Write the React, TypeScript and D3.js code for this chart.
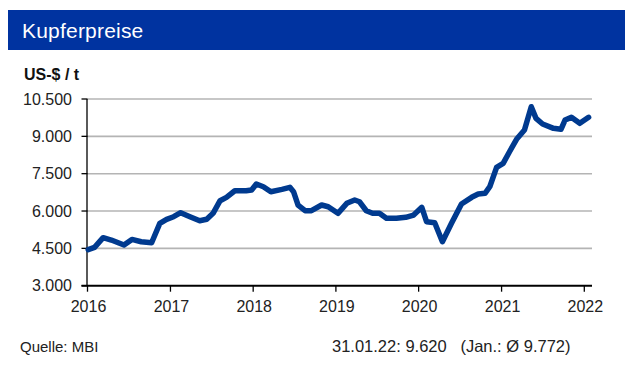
import React from "react";
import * as d3 from "d3";

const dates: string[] = [
  "2016-01-04","2016-02-01","2016-03-10","2016-04-15","2016-06-10","2016-07-15","2016-08-25","2016-10-10",
  "2016-11-15","2016-12-15","2017-01-15","2017-02-15","2017-03-28","2017-05-10","2017-06-10","2017-07-08",
  "2017-08-08","2017-09-05","2017-10-12","2017-12-01","2017-12-25","2018-01-15","2018-02-15","2018-03-20",
  "2018-05-08","2018-06-12","2018-06-28","2018-07-18","2018-08-18","2018-09-15","2018-10-30","2018-11-28",
  "2019-01-10","2019-02-18","2019-03-25","2019-04-15","2019-05-15","2019-06-12","2019-07-12","2019-08-12",
  "2019-09-25","2019-11-05","2019-12-10","2020-01-15","2020-02-05","2020-03-12","2020-04-15","2020-05-25",
  "2020-07-08","2020-08-22","2020-09-20","2020-10-20","2020-11-10","2020-12-10","2021-01-08","2021-02-05",
  "2021-03-08","2021-04-12","2021-05-12","2021-06-02","2021-07-01","2021-08-18","2021-09-20","2021-10-08",
  "2021-11-05","2021-12-12","2022-01-20"
];
const prices: number[] = [
  4450,4540,4930,4835,4635,4860,4767,4727,
  5506,5667,5771,5932,5771,5610,5667,5908,
  6414,6550,6815,6815,6843,7084,6976,6775,
  6872,6952,6775,6241,6012,6012,6241,6173,
  5908,6309,6442,6373,6012,5908,5908,5707,
  5707,5747,5839,6149,5570,5530,4767,5506,
  6281,6550,6683,6711,6976,7755,7916,8382,
  8880,9253,10189,9723,9494,9321,9281,9655,
  9763,9522,9763
];
const yTicks: number[] = [3000, 4500, 6000, 7500, 9000, 10500];
const xTickYears: number[] = [2016, 2017, 2018, 2019, 2020, 2021, 2022];

const title = "Kupferpreise";
const unit = "US-$ / t";
const source = "Quelle: MBI";
const note = "31.01.22: 9.620   (Jan.: Ø 9.772)";

const fmt = (v: number) => d3.format(",")(v).replace(/,/g, ".");

export default function App() {
  const W = 632, H = 377;
  const x0 = 87.5, x1 = 584.3, gridEnd = 592;
  const y0 = 285.7, y1 = 99;
  const x = d3.scaleTime()
    .domain([new Date(2016, 0, 1), new Date(2022, 0, 1)])
    .range([x0, x1]);
  const y = d3.scaleLinear().domain([3000, 10500]).range([y0, y1]);
  const parse = d3.timeParse("%Y-%m-%d");
  const pts = dates.map((d, i) => ({ d: parse(d) as Date, v: prices[i] }));
  const line = d3.line<{ d: Date; v: number }>()
    .x((p) => x(p.d))
    .y((p) => y(p.v))
    .curve(d3.curveLinear);
  const font = "'Liberation Sans', Arial, sans-serif";
  return (
    <svg width={W} height={H} style={{ position: "absolute", left: 0, top: 0 }} fontFamily={font}>
      <rect x={0} y={0} width={W} height={H} fill="#fff" />
      <rect x={8} y={10} width={617} height={40} fill="#0033a0" />
      <text x={22} y={38} fill="#fff" fontSize={21} style={{ letterSpacing: "0.2px" }}>{title}</text>
      <text x={24} y={80} fill="#111" fontSize={16} fontWeight="bold">{unit}</text>
      {yTicks.filter((t) => t !== 3000).map((t) => (
        <line key={"g" + t} x1={x0} x2={gridEnd} y1={y(t)} y2={y(t)} stroke="#b4b4b4" strokeWidth={1.6} />
      ))}
      {yTicks.map((t) => (
        <g key={"y" + t}>
          <line x1={x0 - 6} x2={x0} y1={y(t)} y2={y(t)} stroke="#000" strokeWidth={1.3} />
          <text x={72} y={y(t) + 5.5} textAnchor="end" fontSize={16} fill="#222">{fmt(t)}</text>
        </g>
      ))}
      <line x1={x0 - 0.5} x2={x0 - 0.5} y1={y1} y2={y0} stroke="#000" strokeWidth={1.3} />
      <line x1={x0 - 6} x2={gridEnd} y1={y0} y2={y0} stroke="#000" strokeWidth={2} />
      {xTickYears.map((yr) => {
        const px = x(new Date(yr, 0, 1));
        return (
          <g key={"x" + yr}>
            <line x1={px} x2={px} y1={y0} y2={y0 + 6} stroke="#000" strokeWidth={1.3} />
            <text x={px + 1} y={311.5} textAnchor="middle" fontSize={16} fill="#222">{yr}</text>
          </g>
        );
      })}
      <path d={line(pts) || ""} fill="none" stroke="#003a8f" strokeWidth={5.5} strokeLinejoin="round" strokeLinecap="round" />
      <text x={20} y={352} fontSize={15} fill="#222">{source}</text>
      <text x={332} y={352} fontSize={16.5} fill="#222" style={{ whiteSpace: "pre" }}>{note}</text>
    </svg>
  );
}
